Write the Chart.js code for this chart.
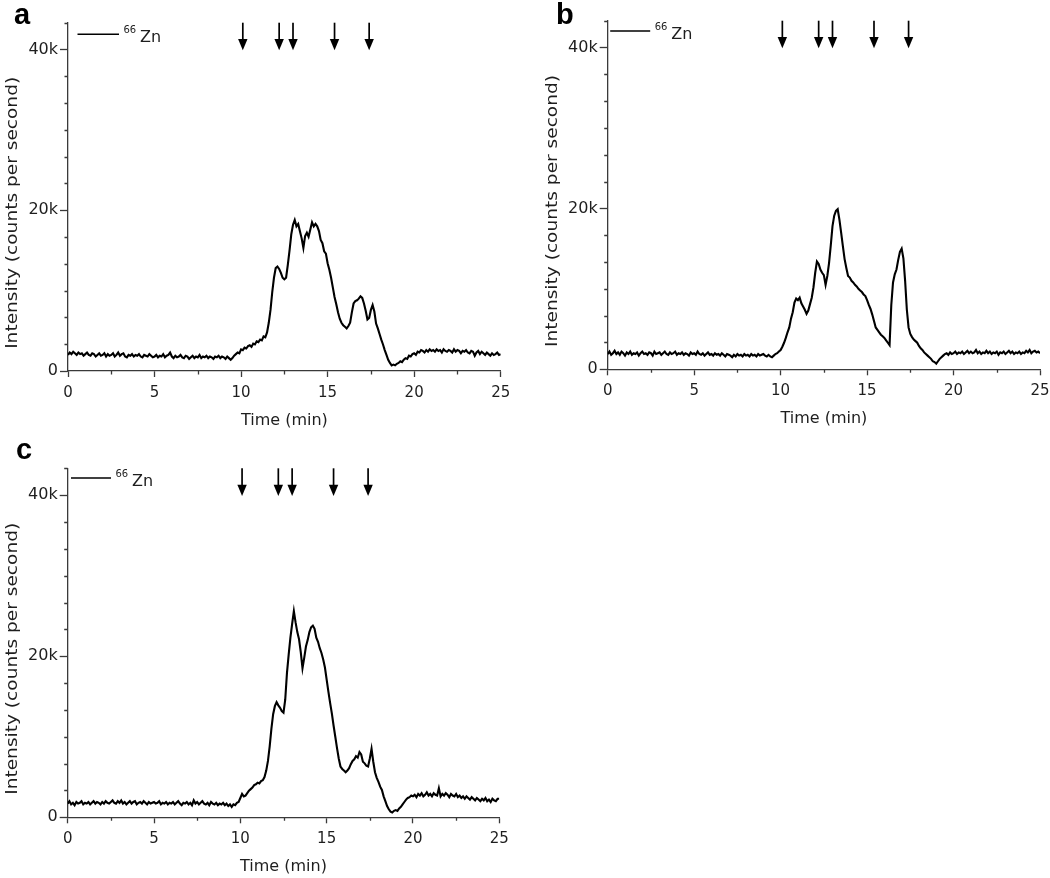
<!DOCTYPE html>
<html>
<head>
<meta charset="utf-8">
<script src="https://cdn.jsdelivr.net/npm/chart.js@4.4.1/dist/chart.umd.min.js"></script>
<style>
  html, body { margin: 0; padding: 0; background: #fff; }
  body { width: 1050px; height: 878px; position: relative; overflow: hidden; }
  canvas { position: absolute; }
</style>
</head>
<body>
<canvas id="pa"></canvas>
<canvas id="pb"></canvas>
<canvas id="pc"></canvas>
<script>
// ---------------- data ----------------
// retention time grid (min), 0.1 min steps
const times = Array.from({length: 251}, (_, i) => +(i / 10).toFixed(1));

// 66Zn intensity, thousands of counts per second
const znA = [
  2.0, 2.3, 2.1, 2.4, 2.2, 2.0, 2.3, 2.1, 2.2, 1.9,
  2.1, 2.3, 2.0, 1.9, 2.2, 2.1, 1.8, 2.0, 2.2, 1.9,
  2.0, 2.2, 1.8, 2.1, 1.9, 2.0, 2.2, 1.8, 2.0, 2.3,
  1.9, 2.1, 2.2, 1.8, 1.7, 2.0, 1.9, 2.1, 1.8, 2.0,
  1.9, 2.1, 1.8, 1.7, 2.0, 1.9, 1.8, 2.1, 1.9, 1.7,
  1.8, 2.0, 1.7, 1.9, 1.8, 2.1, 1.7, 1.9, 2.0, 2.3,
  1.8, 1.6, 1.9, 1.7, 1.8, 2.0, 1.7, 1.6, 1.9, 1.8,
  1.5, 1.7, 1.9, 1.6, 1.8, 1.7, 2.0, 1.6, 1.8, 1.7,
  1.9, 1.6, 1.8, 1.7, 1.5, 1.8, 1.7, 1.9, 1.6, 1.8,
  1.7, 1.5, 1.8, 1.6, 1.4, 1.6, 1.9, 2.1, 2.3, 2.2,
  2.7, 2.6, 2.9, 2.8, 3.1, 3.2, 3.0, 3.4, 3.3, 3.7,
  3.6, 3.9, 3.8, 4.3, 4.2, 4.8, 6.0, 7.6, 9.8, 11.6,
  12.8, 13.0, 12.7, 12.2, 11.6, 11.4, 11.6, 13.2, 15.0, 17.0,
  18.2, 18.8, 18.0, 18.3, 17.4, 16.5, 15.3, 16.8, 17.2, 16.7,
  17.6, 18.5, 18.0, 18.3, 18.0, 17.4, 16.3, 15.9, 14.9, 14.6,
  13.4, 12.6, 11.6, 10.4, 9.2, 8.3, 7.3, 6.5, 6.0, 5.7,
  5.5, 5.3, 5.6, 6.0, 7.3, 8.4, 8.7, 8.8, 9.0, 9.3,
  9.1, 8.4, 7.5, 6.4, 6.6, 7.6, 8.2, 7.4, 5.9, 5.3,
  4.6, 3.9, 3.3, 2.6, 2.0, 1.4, 1.0, 0.7, 0.8, 0.7,
  0.9, 1.0, 1.2, 1.1, 1.4, 1.6, 1.5, 1.9, 1.8, 2.1,
  2.2, 2.0, 2.4, 2.3, 2.6, 2.5, 2.3, 2.6, 2.4, 2.7,
  2.5, 2.6, 2.4, 2.7, 2.5, 2.6, 2.3, 2.7, 2.5, 2.4,
  2.6, 2.5, 2.3, 2.7, 2.4, 2.6, 2.5, 2.2, 2.5, 2.4,
  2.6, 2.3, 2.2, 2.5, 2.4, 1.9, 2.3, 2.5, 2.1, 2.4,
  2.2, 2.0, 2.3, 2.1, 1.9, 2.2, 2.0, 2.1, 2.3, 2.0,
  2.1
];

const znB = [
  1.9, 2.2, 1.8, 2.0, 2.3, 1.9, 2.1, 1.8, 2.2, 2.0,
  1.7, 2.1, 1.9, 2.2, 1.8, 2.0, 1.9, 2.1, 1.7, 2.0,
  2.2, 1.9, 2.0, 1.8, 2.1, 2.0, 1.7, 2.2, 1.9, 2.0,
  2.1, 1.8, 2.0, 2.2, 1.9, 1.8, 2.1, 1.9, 2.0, 2.2,
  1.8, 2.0, 1.9, 2.1, 1.8, 2.0, 1.9, 1.7, 2.1, 1.9,
  2.0, 1.8, 2.2, 1.9, 1.8, 2.0, 1.7, 1.9, 2.1, 1.8,
  1.9, 1.7, 2.0, 1.8, 1.9, 1.7, 2.0, 1.8, 1.6, 1.9,
  1.8, 1.7, 1.5, 1.8, 1.6, 1.9, 1.7, 1.8, 1.6, 1.9,
  1.7, 1.8, 1.6, 1.9, 1.7, 1.8, 1.6, 1.9, 1.7, 1.8,
  1.9, 1.7, 1.6, 1.8, 1.6, 1.5, 1.7, 1.9, 2.0, 2.2,
  2.4, 2.8, 3.3, 3.9, 4.6, 5.2, 6.3, 7.1, 8.3, 8.8,
  8.6, 8.9, 8.2, 7.8, 7.4, 6.9, 7.3, 8.1, 8.9, 10.2,
  12.0, 13.4, 13.1, 12.4, 12.0, 11.7, 10.5, 11.6, 13.2, 15.4,
  17.8, 19.1, 19.7, 19.9, 18.6, 17.0, 15.3, 13.7, 12.6, 11.6,
  11.4, 11.0, 10.8, 10.5, 10.3, 10.0, 9.8, 9.6, 9.3, 9.1,
  8.6, 8.0, 7.5, 6.8, 6.0, 5.2, 4.9, 4.6, 4.3, 4.1,
  3.9, 3.6, 3.3, 3.0, 8.0, 10.8, 11.8, 12.4, 13.6, 14.6,
  15.0, 13.8, 11.0, 7.4, 5.2, 4.4, 4.0, 3.7, 3.5, 3.3,
  2.9, 2.6, 2.4, 2.1, 1.9, 1.7, 1.5, 1.3, 1.0, 0.9,
  0.7, 1.0, 1.3, 1.5, 1.7, 1.9, 2.0, 1.8, 2.1, 1.9,
  2.0, 2.2, 1.9, 2.1, 2.0, 2.2, 1.9, 2.1, 2.3, 2.0,
  2.2, 2.0, 2.1, 2.4, 2.0, 2.2, 1.9, 2.1, 2.0, 2.3,
  2.0, 2.2, 1.9, 2.1, 2.0, 2.2, 1.8, 2.1, 2.0, 2.2,
  1.9, 2.1, 2.3, 2.0, 2.2, 1.9, 2.1, 2.0, 2.2, 1.9,
  2.1, 2.0, 2.3, 2.1, 2.4, 2.0, 2.2, 2.3, 2.1, 2.2,
  2.0
];

const znC = [
  1.7, 2.0, 1.6, 1.8, 1.5, 1.9, 1.7, 1.8, 2.0, 1.6,
  1.8, 1.7, 1.9, 1.6, 1.8, 2.0, 1.7, 1.9, 1.8, 1.6,
  1.9, 1.7, 2.0, 1.8, 1.7, 1.9, 2.1, 1.8, 1.7, 2.0,
  1.8, 2.1, 1.7, 1.9, 1.6, 1.8, 2.0, 1.7, 1.9, 2.0,
  1.6, 1.8, 1.9, 1.7, 2.0, 1.8, 1.6, 1.9, 1.7, 1.8,
  1.9, 1.7, 1.8, 2.0, 1.6, 1.8, 1.7, 1.9, 1.6, 1.8,
  1.7, 1.9, 1.6, 1.8, 2.0, 1.7, 1.5, 1.8, 1.7, 1.9,
  1.6, 1.8, 1.5, 2.1, 1.7, 1.9, 1.6, 1.8, 2.0, 1.7,
  1.6, 1.8, 1.5, 1.9, 1.7, 1.6, 1.8, 1.5, 1.7, 1.6,
  1.8, 1.5, 1.7, 1.4, 1.6, 1.3, 1.6, 1.5, 1.8, 1.9,
  2.4, 2.9, 2.6, 2.7, 3.0, 3.3, 3.5, 3.7, 4.0, 4.1,
  4.3, 4.2, 4.5, 4.6, 5.0, 5.8, 7.0, 8.8, 11.0, 12.8,
  13.8, 14.3, 13.9, 13.6, 13.2, 13.0, 14.6, 17.9, 20.2, 22.3,
  24.0, 25.6, 24.2, 23.0, 22.1, 20.5, 18.5, 19.8, 21.2, 22.0,
  23.0, 23.6, 23.8, 23.4, 22.3, 21.8, 21.0, 20.4, 19.6, 18.6,
  17.1, 15.6, 14.2, 12.9, 11.4, 10.0, 8.6, 7.3, 6.3, 6.0,
  5.8, 5.6, 5.8, 6.1, 6.6, 7.0, 7.2, 7.6, 7.4, 8.1,
  7.8, 6.9, 6.7, 6.4, 6.3, 7.3, 8.5, 6.9, 5.6, 4.9,
  4.4, 3.8, 3.4, 2.6, 2.0, 1.4, 1.0, 0.7, 0.6, 0.8,
  0.9, 0.8, 1.1, 1.3, 1.6, 1.9, 2.2, 2.4, 2.5, 2.7,
  2.6, 2.8, 2.5, 2.9, 2.7, 3.0, 2.6, 2.8, 3.1, 2.7,
  2.9, 2.6, 3.0, 2.8, 2.7, 3.6, 2.6, 2.9, 2.7, 3.0,
  2.8, 2.5, 2.9, 2.7, 2.6, 2.9, 2.5, 2.7, 2.4, 2.6,
  2.3, 2.6, 2.4, 2.2, 2.5, 2.3, 2.1, 2.4, 2.2, 2.0,
  2.3, 2.1, 2.4, 2.0, 2.2, 1.9, 2.3, 2.1, 2.0, 2.3,
  2.3
];

// fraction markers (min)
const arrowTimes = [10.1, 12.2, 13.0, 15.4, 17.4];

// ticks
const xMajorTicks = [0, 5, 10, 15, 20, 25];
const xMinorTicks = [2.5, 7.5, 12.5, 17.5, 22.5];
const yMajorTicks = [0, 20, 40];
const yMinorTicks = [3.333, 6.667, 10, 13.333, 16.667, 23.333, 26.667, 30, 33.333, 36.667, 43.333];
const yMax = 43.333;

const panelLetters = ['a', 'b', 'c'];
const legendIsotope = '66';
const legendElement = 'Zn';
const xTitle = 'Time (min)';
const yTitle = 'Intensity (counts per second)';

// ---------------- layout ----------------
const FONT = '"DejaVu Sans", Verdana, sans-serif';
const AXIS = '#3a3a3a';
const TEXT = '#1e1e1e';

const panels = [
  { id: 'pa', data: znA, left: 0,   top: 0,   w: 525, h: 435,
    area: { l: 68,   t: 22.7, r: 500.7, b: 371 },
    letter: { x: 14, y: 23.5 }, legend: { dx: 9.5, dy: 11.6, len: 41.5 } },
  { id: 'pb', data: znB, left: 530, top: 0,   w: 520, h: 435,
    area: { l: 77.7, t: 20.7, r: 510,   b: 369.3 },
    letter: { x: 26, y: 23.5 }, legend: { dx: 2.5, dy: 10.3, len: 40 } },
  { id: 'pc', data: znC, left: 0,   top: 440, w: 525, h: 438,
    area: { l: 67.7, t: 28.3, r: 499.3, b: 377.3 },
    letter: { x: 16, y: 18.5 }, legend: { dx: 3.3, dy: 9.7, len: 40 } }
];

function makeDecor(p, letter) {
  return {
    id: 'decor_' + p.id,
    afterDraw(chart) {
      const { ctx, chartArea: a, scales: { x, y } } = chart;
      ctx.save();
      // minor ticks
      ctx.strokeStyle = AXIS;
      ctx.lineWidth = 1.3;
      ctx.beginPath();
      yMinorTicks.forEach(v => {
        const py = Math.round(y.getPixelForValue(v)) + 0.5;
        ctx.moveTo(a.left - 3.5, py); ctx.lineTo(a.left, py);
      });
      xMinorTicks.forEach(v => {
        const px = Math.round(x.getPixelForValue(v)) + 0.5;
        ctx.moveTo(px, a.bottom); ctx.lineTo(px, a.bottom + 3.5);
      });
      ctx.stroke();

      // arrows
      ctx.strokeStyle = '#000';
      ctx.fillStyle = '#000';
      ctx.lineWidth = 1.7;
      arrowTimes.forEach(t => {
        const px = x.getPixelForValue(t);
        const yTop = y.getPixelForValue(yMax);
        const yHead = y.getPixelForValue(41.3);
        const yTip = y.getPixelForValue(39.9);
        ctx.beginPath();
        ctx.moveTo(px, yTop); ctx.lineTo(px, yHead + 1);
        ctx.stroke();
        ctx.beginPath();
        ctx.moveTo(px - 4.7, yHead); ctx.lineTo(px + 4.7, yHead); ctx.lineTo(px, yTip);
        ctx.closePath(); ctx.fill();
      });

      // legend
      const lx0 = a.left + p.legend.dx, ly = a.top + p.legend.dy, lx1 = lx0 + p.legend.len;
      ctx.lineWidth = 1.6;
      ctx.beginPath(); ctx.moveTo(lx0, ly); ctx.lineTo(lx1, ly); ctx.stroke();
      ctx.fillStyle = TEXT;
      ctx.textBaseline = 'alphabetic';
      ctx.textAlign = 'left';
      ctx.font = '10px ' + FONT;
      ctx.fillText(legendIsotope, lx1 + 4.5, ly - 1.5);
      ctx.font = '16px ' + FONT;
      ctx.fillText(legendElement, lx1 + 21, ly + 7.5);

      // y-axis title
      ctx.save();
      ctx.translate(a.left - 55, (a.top + a.bottom) / 2 + 16);
      ctx.rotate(-Math.PI / 2);
      ctx.scale(1.16, 1);
      ctx.font = '16px ' + FONT;
      ctx.textAlign = 'center';
      ctx.textBaseline = 'middle';
      ctx.fillText(yTitle, 0, 0);
      ctx.restore();

      // panel letter
      ctx.font = 'bold 29px "Liberation Sans", Arial, sans-serif';
      ctx.fillStyle = '#000';
      ctx.textAlign = 'left';
      ctx.textBaseline = 'alphabetic';
      ctx.fillText(letter, p.letter.x, p.letter.y);
      ctx.restore();
    }
  };
}

panels.forEach((p, i) => {
  const cv = document.getElementById(p.id);
  cv.width = p.w; cv.height = p.h;
  cv.style.left = p.left + 'px'; cv.style.top = p.top + 'px';
  cv.style.width = p.w + 'px'; cv.style.height = p.h + 'px';
  const xAxisH = p.h - p.area.b;
  const titleLH = 16 * 1.2;
  const titlePadBottom = Math.max(0, xAxisH - 49.7 - titleLH / 2);

  new Chart(cv.getContext('2d'), {
    type: 'line',
    data: {
      labels: times,
      datasets: [{
        data: p.data,
        borderColor: '#000',
        borderWidth: 2.1,
        pointRadius: 0,
        tension: 0,
        fill: false
      }]
    },
    options: {
      responsive: false,
      animation: false,
      devicePixelRatio: 1,
      layout: { padding: { left: 0, top: p.area.t, right: p.w - p.area.r, bottom: 0 } },
      plugins: { legend: { display: false }, tooltip: { enabled: false } },
      scales: {
        x: {
          type: 'linear', min: 0, max: 25,
          afterBuildTicks: s => { s.ticks = xMajorTicks.map(v => ({ value: v })); },
          afterFit: s => { s.height = xAxisH; s.paddingLeft = 0; s.paddingRight = 0; },
          border: { display: true, color: AXIS, width: 1.3 },
          grid: { drawOnChartArea: false, drawTicks: true, tickLength: 6, tickColor: AXIS, tickWidth: 1.3 },
          ticks: { font: { family: FONT, size: 15 }, color: TEXT, padding: 7, maxRotation: 0, autoSkip: false },
          title: { display: true, text: xTitle, color: TEXT, font: { family: FONT, size: 16 },
                   padding: { top: 0, bottom: titlePadBottom } }
        },
        y: {
          type: 'linear', min: 0, max: yMax,
          afterBuildTicks: s => { s.ticks = yMajorTicks.map(v => ({ value: v })); },
          afterFit: s => { s.width = p.area.l; s.paddingTop = 0; s.paddingBottom = 0; },
          border: { display: true, color: AXIS, width: 1.3 },
          grid: { drawOnChartArea: false, drawTicks: true, tickLength: 8, tickColor: AXIS, tickWidth: 1.3 },
          ticks: { font: { family: FONT, size: 16 }, color: TEXT, padding: 2,
                   callback: v => (v === 0 ? '0' : v + 'k') }
        }
      }
    },
    plugins: [makeDecor(p, panelLetters[i])]
  });
});
</script>
</body>
</html>
